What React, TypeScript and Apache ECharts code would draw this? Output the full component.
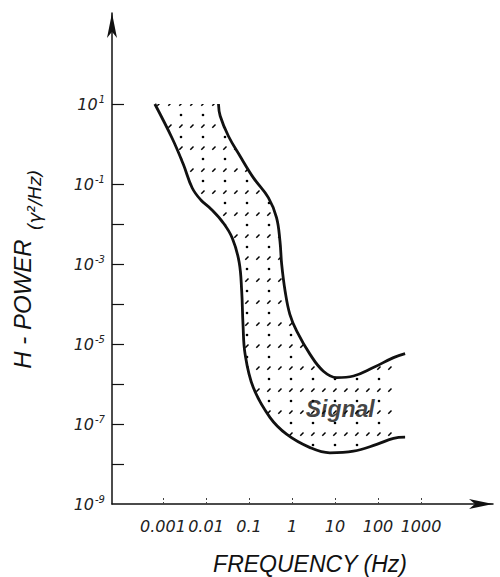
import { useEffect, useRef } from 'react';
import * as echarts from 'echarts';

// Band edges as [log10 frequency (Hz), log10 power (γ²/Hz)]
const lowerEdge: [number, number][] = [
  [-3.19, 1.0], [-2.79, 0.15], [-2.53, -0.5], [-2.32, -1.1], [-2.12, -1.4],
  [-1.88, -1.63], [-1.6, -1.97], [-1.39, -2.35], [-1.23, -2.95], [-1.17, -3.68], [-1.14, -4.5],
  [-1.09, -5.26], [-0.9, -6.09], [-0.51, -6.84], [-0.12, -7.26], [0.42, -7.59],
  [0.88, -7.72], [1.43, -7.68], [1.97, -7.51], [2.36, -7.36], [2.63, -7.33],
];
const upperEdge: [number, number][] = [
  [-1.71, 1.0], [-1.67, 0.7], [-1.48, 0.2], [-1.21, -0.3], [-0.9, -0.84],
  [-0.55, -1.34], [-0.36, -1.84], [-0.28, -2.43], [-0.24, -3.01], [-0.16, -3.68],
  [-0.05, -4.26], [0.11, -4.68], [0.42, -5.26], [0.73, -5.68], [1.04, -5.84],
  [1.43, -5.8], [1.89, -5.59], [2.36, -5.34], [2.63, -5.24],
];
// Right-hand limit of the dotted fill (log10 Hz)
const fillEnd = 2.43;

const freqExponents = [-3, -2, -1, 0, 1, 2, 3];
const freqLabels = ['0.001', '0.01', '0.1', '1', '10', '100', '1000'];
const powerLabelExponents = [1, -1, -3, -5, -7, -9];
const powerTickExponents = [1, -1, -2, -3, -4, -5, -6, -7, -8];

const signalLabel = { text: 'Signal', at: [1.12, -6.62] };

const INK = '#111';

function edgeAt(edge: [number, number][], x: number): [number, number] {
  for (let i = 1; i < edge.length; i++) {
    const [x0, y0] = edge[i - 1];
    const [x1, y1] = edge[i];
    if (x >= x0 && x <= x1) {
      const t = (x - x0) / (x1 - x0);
      return [x, y0 + t * (y1 - y0)];
    }
  }
  return edge[edge.length - 1];
}

// Stippled texture: a row of sparse dots alternating with a row of short ticks
function makeDotTile(): string {
  const c = document.createElement('canvas');
  c.width = 22;
  c.height = 22;
  const ctx = c.getContext('2d')!;
  ctx.fillStyle = '#000';
  ctx.strokeStyle = '#000';
  ctx.lineWidth = 1.5;
  ctx.beginPath();
  ctx.arc(5, 5, 1.3, 0, Math.PI * 2);
  ctx.fill();
  for (const cx of [5, 16]) {
    ctx.beginPath();
    ctx.moveTo(cx - 1.7, 17.7);
    ctx.lineTo(cx + 1.5, 14.5);
    ctx.stroke();
  }
  return c.toDataURL();
}

export default function App() {
  const ref = useRef<HTMLDivElement>(null);

  useEffect(() => {
    if (!ref.current) return;
    const chart = echarts.init(ref.current, null, { renderer: 'svg' });

    const dotFill = {
      image: makeDotTile(),
      imageWidth: 22,
      imageHeight: 22,
      repeat: 'repeat',
    };

    const lowerFill = lowerEdge.filter((p) => p[0] < fillEnd).concat([edgeAt(lowerEdge, fillEnd)]);
    const upperFill = upperEdge.filter((p) => p[0] < fillEnd).concat([edgeAt(upperEdge, fillEnd)]);
    const bandOutline = [...lowerFill, ...upperFill.slice().reverse()];

    const supLabel = (v: number) => `{b|10}{s|${v}}`;

    chart.setOption({
      animation: false,
      backgroundColor: '#fff',
      grid: { left: 112, right: 7, top: 13, bottom: 73, containLabel: false },
      xAxis: {
        type: 'value',
        min: -4.186,
        max: 4.674,
        splitLine: { show: false },
        axisLine: {
          show: true,
          onZero: false,
          symbol: ['none', 'arrow'],
          symbolSize: [7.5, 24],
          lineStyle: { color: INK, width: 1.5 },
        },
        axisTick: {
          show: true,
          inside: true,
          length: 8,
          customValues: freqExponents,
          lineStyle: { color: '#444', width: 1, type: [2, 2] },
        },
        axisLabel: {
          show: true,
          customValues: freqExponents,
          margin: 14,
          formatter: (v: number) => freqLabels[freqExponents.indexOf(Math.round(v))] ?? '',
          color: '#222',
          fontFamily: 'DejaVu Sans',
          fontStyle: 'italic',
          fontSize: 16,
        },
      },
      yAxis: {
        type: 'value',
        min: -9,
        max: 3.275,
        splitLine: { show: false },
        axisLine: {
          show: true,
          onZero: false,
          symbol: ['none', 'arrow'],
          symbolSize: [7.5, 25],
          lineStyle: { color: INK, width: 1.5 },
        },
        axisTick: {
          show: true,
          inside: true,
          length: 12,
          customValues: powerTickExponents,
          lineStyle: { color: INK, width: 1.2 },
        },
        axisLabel: {
          show: true,
          customValues: powerLabelExponents,
          margin: 7,
          formatter: supLabel,
          rich: {
            b: { fontFamily: 'DejaVu Sans', fontStyle: 'italic', fontSize: 16, color: '#222' },
            s: {
              fontFamily: 'DejaVu Sans',
              fontStyle: 'italic',
              fontSize: 10,
              color: '#222',
              padding: [0, 0, 10, 1],
            },
          },
        },
      },
      series: [
        {
          type: 'custom',
          silent: true,
          z: 1,
          data: [[0, 0]],
          renderItem: (_params: any, api: any) => ({
            type: 'polygon',
            shape: { points: bandOutline.map((p) => api.coord(p)) },
            style: { fill: dotFill, stroke: null },
          }),
        },
        {
          type: 'line',
          data: lowerEdge,
          smooth: 0.4,
          symbol: 'none',
          z: 3,
          lineStyle: { color: INK, width: 2.8 },
        },
        {
          type: 'line',
          data: upperEdge,
          smooth: 0.4,
          symbol: 'none',
          z: 3,
          lineStyle: { color: INK, width: 2.8 },
        },
        {
          type: 'scatter',
          data: [signalLabel.at],
          symbolSize: 0,
          z: 4,
          label: {
            show: true,
            position: 'inside',
            formatter: signalLabel.text,
            fontFamily: 'Liberation Sans',
            fontStyle: 'italic',
            fontWeight: 'bold',
            fontSize: 23,
            color: INK,
          },
        },
      ],
      graphic: [
        {
          type: 'text',
          x: 310,
          y: 564,
          style: {
            text: 'FREQUENCY (Hz)',
            fontFamily: 'Liberation Sans',
            fontStyle: 'italic',
            fontSize: 23,
            fill: INK,
            align: 'center',
            verticalAlign: 'middle',
          },
        },
        {
          type: 'text',
          x: 22,
          y: 304,
          rotation: Math.PI / 2,
          style: {
            text: 'H - POWER',
            fontFamily: 'Liberation Sans',
            fontStyle: 'italic',
            fontSize: 24,
            fill: INK,
            align: 'center',
            verticalAlign: 'middle',
          },
        },
        {
          type: 'text',
          x: 34,
          y: 200,
          rotation: Math.PI / 2,
          style: {
            text: '(γ²/Hz)',
            fontFamily: 'DejaVu Sans',
            fontStyle: 'italic',
            fontSize: 18,
            fill: INK,
            align: 'center',
            verticalAlign: 'middle',
          },
        },
      ],
    });

    return () => chart.dispose();
  }, []);

  return (
    <div
      ref={ref}
      style={{ position: 'fixed', left: 0, top: 0, width: 500, height: 577, background: '#fff' }}
    />
  );
}
